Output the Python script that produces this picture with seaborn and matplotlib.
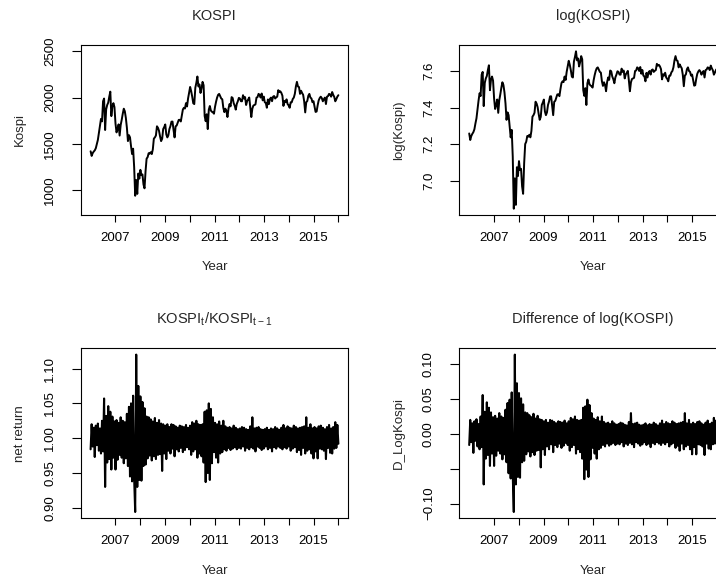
import numpy as np
import matplotlib
matplotlib.use("Agg")
import matplotlib.pyplot as plt
import seaborn as sns

# KOSPI closing level, two readings per month, 2006.0 -> 2016.0 (axis years)
kospi = [
    1420, 1370, 1400, 1417, 1430, 1453, 1500, 1543, 1620, 1700, 1770, 1743,
    1960, 1990, 1650, 1873, 1920, 1946, 2010, 2064, 1800, 1906, 1940, 1897,
    1720, 1624, 1660, 1711, 1590, 1704, 1760, 1825, 1880, 1852, 1780, 1674,
    1530, 1594, 1570, 1474, 1390, 1448, 1250, 940, 1110, 960, 1180, 1124,
    1220, 1162, 1170, 1063, 1020, 1206, 1340, 1357, 1400, 1395, 1410, 1390,
    1440, 1557, 1570, 1591, 1690, 1673, 1640, 1580, 1530, 1555, 1660, 1682,
    1710, 1602, 1570, 1594, 1660, 1692, 1740, 1741, 1650, 1570, 1690, 1698,
    1730, 1759, 1760, 1742, 1810, 1872, 1890, 1882, 1940, 1904, 1990, 2051,
    2115, 2069, 2010, 1939, 1930, 2106, 2160, 2228, 2120, 2142, 2050, 2100,
    2170, 2133, 1801, 1745, 1820, 1660, 1870, 1909, 1860, 1847, 1840, 1826,
    1900, 1955, 2000, 2030, 2040, 2014, 1990, 1982, 1890, 1843, 1880, 1854,
    1790, 1881, 1930, 1905, 2005, 1996, 1940, 1912, 1870, 1932, 1960, 1997,
    1990, 1961, 1960, 2026, 1990, 2005, 1920, 1963, 1980, 2001, 1900, 1790,
    1880, 1914, 1920, 1926, 2000, 2005, 2040, 2030, 2000, 2044, 1970, 2011,
    1950, 1941, 1890, 1980, 1930, 1986, 2000, 1961, 2010, 2017, 1990, 2002,
    2010, 2080, 2060, 2068, 2050, 2020, 1910, 1964, 1950, 1981, 1930, 1916,
    1890, 1949, 1950, 1985, 2000, 2041, 2120, 2170, 2120, 2114, 2040, 2074,
    2050, 2030, 1960, 1840, 1950, 1963, 2020, 2040, 2000, 1991, 1950, 1961,
    1900, 1845, 1850, 1917, 1970, 1995, 2010, 1994, 1960, 1983, 2000, 1930,
    2010, 2016, 2040, 2034, 2010, 2060, 2030, 2008, 1960, 1983, 2010, 2026,
]

# day-to-day change in percent
ret_pct = [
    -1.6, 2.0, -1.2, 1.5, -2.7, 1.8, -1.0, 2.1, -1.8, 1.4, -2.2, 2.5,
    -1.9, 5.7, -7.0, 3.2, -3.5, 4.6, -3.0, 3.8, -4.5, 3.1, -2.8, 2.4,
    -4.5, 2.6, -3.1, 2.2, -2.4, 3.0, -2.8, 2.5, -3.6, 2.3, -2.9, 3.5,
    -4.0, 4.5, -5.5, 5.0, -6.2, 6.1, -5.8, -10.6, 12.0, -7.0, 7.5, -6.0,
    6.0, -6.1, 5.2, -4.0, 4.3, -3.8, 3.1, -2.9, 3.0, -2.5, 2.7, -3.2,
    2.4, -2.6, 2.9, -3.0, 2.2, -2.4, 2.6, -2.3, 2.1, -4.7, 2.0, -2.2,
    1.8, -3.0, 2.0, -1.8, 1.6, -2.2, 2.0, -1.5, 1.9, -2.6, 1.7, -1.6,
    1.5, -1.9, 1.8, -1.4, 1.7, -2.0, 1.6, -1.7, 1.9, -1.3, 1.5, -1.6,
    1.8, -2.4, 2.3, -1.9, 2.1, -1.6, 2.5, -2.8, 2.0, -2.2, 1.9, -2.6,
    2.0, -3.5, 3.8, -6.3, 4.0, -5.0, 5.0, -6.0, 4.2, -3.6, 3.0, -2.0,
    2.2, -2.8, 2.0, -3.5, 2.4, -2.2, 1.8, -2.0, 2.5, -1.6, 1.7, -1.8,
    1.5, -1.4, 1.6, -1.7, 1.4, -1.5, 1.8, -1.3, 1.5, -1.6, 1.3, -1.4,
    1.4, -1.5, 1.6, -1.2, 1.5, -1.8, 1.3, -1.4, 1.2, -1.6, 1.7, -1.3,
    3.0, -1.5, 1.4, -1.9, 1.5, -1.2, 1.6, -1.4, 1.3, -1.7, 1.2, -1.5,
    1.3, -1.2, 1.5, -1.6, 1.2, -1.4, 1.4, -1.9, 1.3, -1.3, 1.6, -1.5,
    1.4, -1.2, 1.2, -1.4, 1.5, -1.6, 1.9, -1.3, 1.4, -1.5, 1.7, -1.2,
    1.5, -1.8, 1.4, -1.5, 1.8, -1.3, 1.6, -2.0, 1.4, -1.7, 1.5, -2.4,
    1.6, -1.4, 1.7, -2.2, 3.0, -1.8, 1.5, -1.6, 2.0, -2.2, 1.4, -2.9,
    1.6, -1.9, 1.4, -2.9, 1.7, -1.5, 1.8, -1.6, 1.5, -1.8, 1.3, -3.0,
    1.6, -1.4, 1.9, -2.1, 1.4, -2.2, 1.6, -1.5, 2.3, -1.4, 1.9, -0.8,
]

year_ticks = [2007, 2008, 2009, 2010, 2011, 2012, 2013, 2014, 2015, 2016]
year_labels = ["2007", "", "2009", "", "2011", "", "2013", "", "2015", ""]

kospi_ticks = [1000, 1500, 2000, 2500]
log_ticks = [7.0, 7.2, 7.4, 7.6]
ratio_ticks = [0.90, 0.95, 1.00, 1.05, 1.10]
dlog_ticks = [-0.10, -0.05, 0.00, 0.05, 0.10]
dlog_labels = ["\u22120.10", "", "0.00", "0.05", "0.10"]

sns.set_theme(style="ticks")
plt.rcParams["font.family"] = ["Liberation Sans", "DejaVu Sans"]
plt.rcParams["mathtext.fontset"] = "custom"
plt.rcParams["mathtext.rm"] = "Liberation Sans"
plt.rcParams["mathtext.it"] = "Liberation Sans:italic"
plt.rcParams["mathtext.default"] = "regular"

t_level = np.linspace(2006, 2016, len(kospi))
t_ret = np.linspace(2006, 2016, len(ret_pct))
level = np.array(kospi, dtype=float)
ratio = 1 + np.array(ret_pct) / 100
dlog = np.log(ratio)


def r_lim(lo, hi):
    # R style 4% range extension
    pad = 0.04 * (hi - lo)
    return lo - pad, hi + pad


fig = plt.figure(figsize=(7.16, 5.77), dpi=100)
W, H = 716, 577
box_w, box_h = 267.6, 170


def panel(left, top, x, y, lw, title, ylab, yticks, ylabels, ylim):
    ax = fig.add_axes([left / W, 1 - (top + box_h) / H, box_w / W, box_h / H])
    sns.lineplot(x=x, y=y, ax=ax, color="black", linewidth=lw,
                 estimator=None, sort=False)
    ax.set_xlim(r_lim(2006, 2016))
    ax.set_ylim(ylim)
    ax.set_xticks(year_ticks, year_labels)
    ax.set_yticks(yticks, ylabels)
    ax.tick_params(axis="x", length=4.8, width=0.8, pad=7.5, labelsize=9.5,
                   color="black", labelcolor="black")
    ax.tick_params(axis="y", length=6.5, width=0.8, pad=11, labelsize=9.5,
                   labelrotation=90, color="black", labelcolor="black")
    for lbl in ax.get_yticklabels():
        lbl.set_va("center")
    for s in ax.spines.values():
        s.set_visible(True)
        s.set_color("black")
        s.set_linewidth(0.8)
    ax.set_xlabel("")
    ax.set_ylabel("")
    ax.text(0.5, 1 + 29 / box_h, title, transform=ax.transAxes,
            ha="center", va="center", fontsize=10.5)
    ax.text(0.5, -52.5 / box_h, "Year", transform=ax.transAxes,
            ha="center", va="center", fontsize=9.5)
    ax.text(-60.5 / box_w, 0.5, ylab, transform=ax.transAxes, rotation=90,
            ha="center", va="center", fontsize=9.5)
    return ax


panel(80.7, 45, t_level, level, 1.4, "KOSPI", "Kospi",
      kospi_ticks, [str(v) for v in kospi_ticks], r_lim(800, 2500))
panel(459.3, 45, t_level, np.log(level), 1.4, "log(KOSPI)", "log(Kospi)",
      log_ticks, [f"{v:.1f}" for v in log_ticks],
      r_lim(np.log(level).min(), np.log(level).max()))
panel(80.7, 348.3, t_ret, ratio, 1.5, r"$\mathregular{KOSPI_t/KOSPI_{t-1}}$",
      "net return", ratio_ticks, [f"{v:.2f}" for v in ratio_ticks],
      r_lim(ratio.min(), ratio.max()))
panel(459.3, 348.3, t_ret, dlog, 1.5, "Difference of log(KOSPI)", "D_LogKospi",
      dlog_ticks, dlog_labels, r_lim(dlog.min(), dlog.max()))

fig.savefig("out.png", dpi=100)
